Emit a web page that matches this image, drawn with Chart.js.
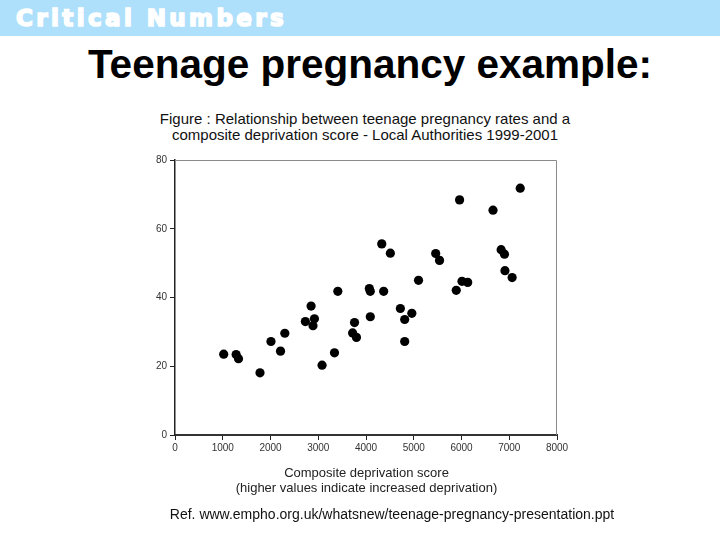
<!DOCTYPE html>
<html>
<head>
<meta charset="utf-8">
<script src="https://cdn.jsdelivr.net/npm/chart.js@4"></script>
<style>
  html, body { margin: 0; padding: 0; background: #fff; }
  body { width: 720px; height: 540px; position: relative; overflow: hidden; font-family: "Liberation Sans", Arial, sans-serif; }
  #header { position: absolute; left: 0; top: 0; width: 720px; height: 36px; background: #afe0fb; }
  #header span { position: absolute; left: 16px; top: 5px; font-family: "DejaVu Sans", sans-serif; font-weight: 900; font-size: 23px; color: #fff; letter-spacing: 3.4px; -webkit-text-stroke: 1.6px #fff; }
  #title { position: absolute; left: 0; width: 740px; top: 41px; text-align: center; font-weight: bold; font-size: 40.5px; color: #000; }
  #figtitle { position: absolute; left: 0; width: 730px; top: 111px; text-align: center; font-size: 15px; line-height: 16px; color: #111; }
  #xtitle { position: absolute; left: 0; width: 733px; top: 465px; text-align: center; font-size: 13px; line-height: 15px; color: #222; }
  #ref { position: absolute; left: 0; width: 784px; top: 506px; text-align: center; font-size: 14px; color: #111; }
  #wrap { position: absolute; left: 0; top: 100px; width: 720px; height: 400px; }
</style>
</head>
<body>
<div id="header"><span>Critical Numbers</span></div>
<div id="title">Teenage pregnancy example:</div>
<div id="figtitle">Figure : Relationship between teenage pregnancy rates and a<br>composite deprivation score - Local Authorities 1999-2001</div>
<div id="wrap"><canvas id="c" width="720" height="400"></canvas></div>
<div id="xtitle">Composite deprivation score<br>(higher values indicate increased deprivation)</div>
<div id="ref">Ref. www.empho.org.uk/whatsnew/teenage-pregnancy-presentation.ppt</div>
<script>
const deprivationScore = [1020, 1280, 1330, 1780, 2010, 2210, 2300, 2730, 2850, 2920, 2890, 3080, 3340, 3410, 3760, 3720, 3800, 4070, 4090, 4090, 4330, 4370, 4510, 4720, 4810, 4810, 4960, 5100, 5460, 5540, 5890, 5960, 6010, 6130, 6660, 6830, 6900, 6910, 7060, 7230];
const pregnancyRate   = [23.5, 23.4, 22.2, 18.1, 27.2, 24.4, 29.6, 33.0, 37.5, 33.8, 31.8, 20.3, 23.9, 41.8, 32.7, 29.7, 28.4, 42.6, 41.8, 34.4, 55.6, 41.8, 52.9, 36.8, 33.6, 27.2, 35.4, 45.0, 52.8, 50.8, 42.1, 68.4, 44.7, 44.4, 65.4, 53.9, 52.6, 47.8, 45.8, 71.8];
const xTicks = [0, 1000, 2000, 3000, 4000, 5000, 6000, 7000, 8000];
const yTicks = [0, 20, 40, 60, 80];

const points = deprivationScore.map((x, i) => ({ x: x, y: pregnancyRate[i] }));

const frameBox = {
  id: 'frameBox',
  afterDraw(chart) {
    const a = chart.chartArea, ctx = chart.ctx;
    ctx.save();
    ctx.strokeStyle = '#8a8a8a';
    ctx.lineWidth = 1;
    ctx.beginPath();
    ctx.moveTo(a.left, a.top + 0.5);
    ctx.lineTo(a.right - 0.5, a.top + 0.5);
    ctx.lineTo(a.right - 0.5, a.bottom);
    ctx.stroke();
    ctx.restore();
  }
};

new Chart(document.getElementById('c'), {
  type: 'scatter',
  data: {
    datasets: [{
      data: points,
      backgroundColor: '#000',
      borderColor: '#000',
      pointRadius: 4.6,
      pointHoverRadius: 4.6,
      borderWidth: 0
    }]
  },
  options: {
    responsive: false,
    animation: false,
    devicePixelRatio: 1,
    layout: { padding: { left: 135, right: 163, top: 60, bottom: 35 } },
    plugins: { legend: { display: false }, tooltip: { enabled: false }, title: { display: false } },
    scales: {
      x: {
        type: 'linear',
        min: xTicks[0], max: xTicks[xTicks.length - 1],
        afterFit: s => { s.height = 30; },
        afterBuildTicks: s => { s.ticks = xTicks.map(v => ({ value: v })); },
        ticks: { color: '#333', font: { family: 'Liberation Sans, Arial', size: 10 }, padding: 2, maxRotation: 0, callback: v => String(v) },
        grid: { drawOnChartArea: false, tickLength: 5, color: '#222', lineWidth: 1 },
        border: { display: true, color: '#333', width: 2 }
      },
      y: {
        type: 'linear',
        min: yTicks[0], max: yTicks[yTicks.length - 1],
        afterFit: s => { s.width = 40; },
        afterBuildTicks: s => { s.ticks = yTicks.map(v => ({ value: v })); },
        ticks: { color: '#333', font: { family: 'Liberation Sans, Arial', size: 10 }, padding: 3, callback: v => String(v) },
        grid: { drawOnChartArea: false, tickLength: 5, color: '#222', lineWidth: 1 },
        border: { display: true, color: '#222', width: 1.5 }
      }
    }
  },
  plugins: [frameBox]
});
</script>
</body>
</html>
